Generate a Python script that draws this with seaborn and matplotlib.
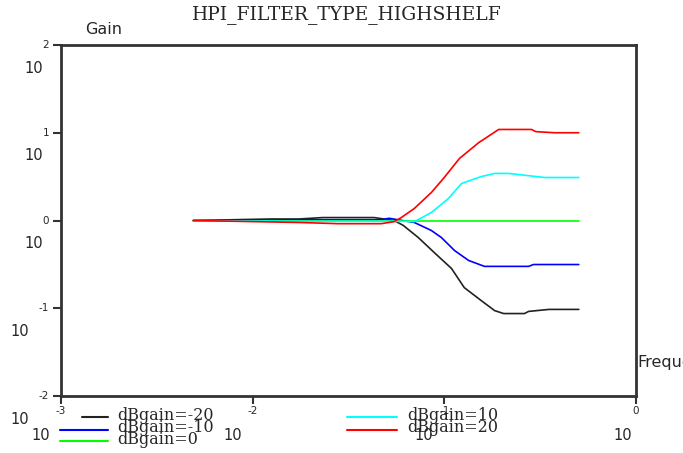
import pandas as pd
import seaborn as sns
import matplotlib.pyplot as plt
from matplotlib.lines import Line2D

# Values (normalised frequency, linear gain)
black_f = [0.0049, 0.0124, 0.0174, 0.0232, 0.043, 0.0547, 0.061, 0.0731, 0.0887, 0.109,
           0.127, 0.156, 0.183, 0.204, 0.262, 0.275, 0.351, 0.503]
black_g = [1.0, 1.04, 1.04, 1.08, 1.08, 1.0, 0.88, 0.64, 0.43, 0.284,
           0.172, 0.122, 0.094, 0.087, 0.087, 0.092, 0.097, 0.097]

blue_f = [0.0049, 0.0174, 0.0468, 0.0515, 0.0697, 0.0855, 0.0965, 0.113, 0.134, 0.162,
          0.275, 0.292, 0.503]
blue_g = [1.0, 1.02, 1.02, 1.06, 0.95, 0.77, 0.64, 0.455, 0.35, 0.30,
          0.30, 0.315, 0.315]

green_f = [0.0049, 0.05, 0.503]
green_g = [1.0, 1.0, 1.0]

cyan_f = [0.0049, 0.0174, 0.0597, 0.0697, 0.0855, 0.105, 0.123, 0.156, 0.183, 0.216,
          0.334, 0.503]
cyan_g = [1.0, 0.98, 0.98, 0.97, 1.23, 1.78, 2.64, 3.17, 3.44, 3.44,
          3.09, 3.09]

red_f = [0.0049, 0.0174, 0.0279, 0.0468, 0.0547, 0.0596, 0.0697, 0.0855, 0.1, 0.12,
         0.151, 0.192, 0.285, 0.30, 0.377, 0.503]
red_g = [1.0, 0.95, 0.92, 0.92, 0.97, 1.08, 1.37, 2.08, 3.1, 5.1,
         7.7, 10.9, 10.9, 10.3, 10.0, 10.0]

labels = ['dBgain=-20', 'dBgain=-10', 'dBgain=0', 'dBgain=10', 'dBgain=20']
colors = ['#222222', '#0000ff', '#00ff00', '#00ffff', '#ff0000']
x_exps = ['-3', '-2', '-1', '0']
y_exps = ['2', '1', '0', '-1', '-2']

series = [(black_f, black_g), (blue_f, blue_g), (green_f, green_g),
          (cyan_f, cyan_g), (red_f, red_g)]
frames = []
for lab, (f, g) in zip(labels, series):
    frames.append(pd.DataFrame({'freq': f, 'gain': g, 'curve': lab}))
df = pd.concat(frames, ignore_index=True)

sns.set_style('white')
plt.rcParams['font.family'] = ['DejaVu Sans']

W, H = 683, 453
fig = plt.figure(figsize=(W / 100, H / 100), dpi=100)
ax = fig.add_axes([61 / W, 1 - 396 / H, (636 - 61) / W, (396 - 45) / H])

sns.lineplot(data=df, x='freq', y='gain', hue='curve', hue_order=labels,
             palette=dict(zip(labels, colors)), linewidth=1.2, legend=False,
             estimator=None, sort=False, ax=ax)

ax.set_xscale('log')
ax.set_yscale('log')
ax.set_xlim(1e-3, 1)
ax.set_ylim(1e-2, 1e2)
ax.minorticks_off()
ax.set_xticks([10.0 ** int(e) for e in x_exps])
ax.set_yticks([10.0 ** int(e) for e in y_exps])
ax.set_xticklabels([])
ax.set_yticklabels([])
ax.set_xlabel('')
ax.set_ylabel('')
ax.tick_params(bottom=True, left=True, direction='out', length=6, width=1.5,
               color='#333333')
for s in ax.spines.values():
    s.set_color('#333333')
    s.set_linewidth(2)

# Scilab style tick labels: small exponent next to the tick, "10" below it
for e in y_exps:
    v = 10.0 ** int(e)
    tr = ax.get_yaxis_transform()
    ax.annotate(e, (0, v), xycoords=tr, xytext=(-12, 0), textcoords='offset pixels',
                ha='right', va='center', fontsize=7.5, annotation_clip=False)
    dx = -18 if len(e) == 1 else -32
    ax.annotate('10', (0, v), xycoords=tr, xytext=(dx, -23), textcoords='offset pixels',
                ha='right', va='center', fontsize=10.5, annotation_clip=False)

for e in x_exps:
    v = 10.0 ** int(e)
    tr = ax.get_xaxis_transform()
    ax.annotate(e, (v, 0), xycoords=tr, xytext=(0, -15), textcoords='offset pixels',
                ha='center', va='center', fontsize=7.5, annotation_clip=False)
    dx = -11 if len(e) > 1 else -4
    ax.annotate('10', (v, 0), xycoords=tr, xytext=(dx, -39), textcoords='offset pixels',
                ha='right', va='center', fontsize=10.5, annotation_clip=False)

def fx(px):
    return px / W

def fy(py):
    return 1 - py / H

fig.text(fx(347), fy(15), 'HPI_FILTER_TYPE_HIGHSHELF', family='DejaVu Serif',
         fontsize=13.5, ha='center', va='center')
fig.text(fx(85), fy(29), 'Gain', fontsize=11.5, ha='left', va='center')
fig.text(fx(637), fy(363), 'Frequency', fontsize=11.5, ha='left', va='center')

# legend at the bottom, two columns like the original
leg_pos = [(82, 417), (60, 430), (60, 441), (347, 417), (347, 430)]
for lab, col, (lx, ly) in zip(labels, colors, leg_pos):
    fig.add_artist(Line2D([fx(lx), fx(lx + 50 if lx > 300 else 108)], [fy(ly), fy(ly)],
                          color=col, linewidth=1.5))
    tx = 117 if lx < 300 else 407
    fig.text(fx(tx), fy(ly - 2), lab, family='DejaVu Serif', fontsize=11.5,
             ha='left', va='center')

fig.savefig('out.png', dpi=100)
